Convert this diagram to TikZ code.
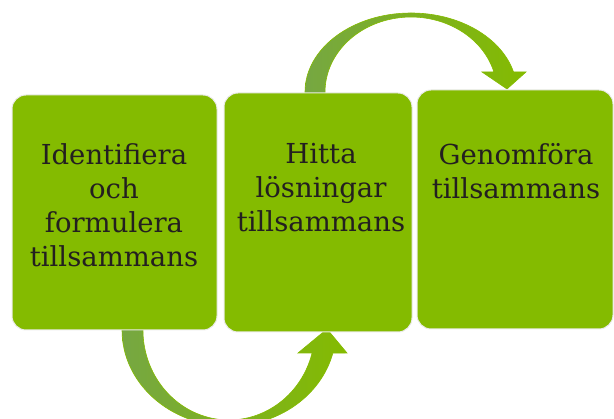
\documentclass[tikz,border=0pt]{standalone}
\usepackage{fontspec}
\setmainfont{DejaVu Serif}
\definecolor{boxgreen}{HTML}{84BB00}
\definecolor{arrowdark}{HTML}{76A742}
\definecolor{txt}{HTML}{231F20}
\begin{document}
\begin{tikzpicture}[x=1pt,y=1pt,
  stepbox/.style={fill=boxgreen,draw=white!92!black,line width=1pt,rounded corners=14pt},
  steptext/.style={anchor=north,inner sep=0pt,align=center,text=txt,font=\fontsize{27.5}{34}\selectfont},
  bendarrow/.style={left color=arrowdark,middle color=boxgreen,right color=boxgreen,draw=boxgreen,line width=0.6pt}]
\useasboundingbox (0,0) rectangle (614,419);
% arrows (behind boxes)
\path[bendarrow] (122,95) -- (122,89) arc[start angle=180,end angle=346.1,x radius=107,y radius=96]
  -- (347,66) -- (327,90) -- (298,66) -- (312.1,66)
  arc[start angle=345.2,end angle=180,x radius=86,y radius=90] -- (143,95) -- cycle;
\path[bendarrow] (305,320) -- (305,327) arc[start angle=180,end angle=14.7,x radius=106,y radius=79]
  -- (526,347) -- (507,330) -- (482,347) -- (493.9,347)
  arc[start angle=15.5,end angle=180,x radius=86,y radius=75] -- (325,320) -- cycle;
% boxes
\draw[stepbox] (12,89) rectangle (217,324);
\draw[stepbox] (224,87) rectangle (412,326);
\draw[stepbox] (417,90) rectangle (613,329);
\node[steptext] (t1) at (114,276) {Identifiera\\och\\formulera\\tillsammans};
\node[steptext] (t2) at (321,276) {Hitta\\lösningar\\tillsammans};
\node[steptext] (t3) at (516,276) {Genomföra\\tillsammans};
\end{tikzpicture}
\end{document}
